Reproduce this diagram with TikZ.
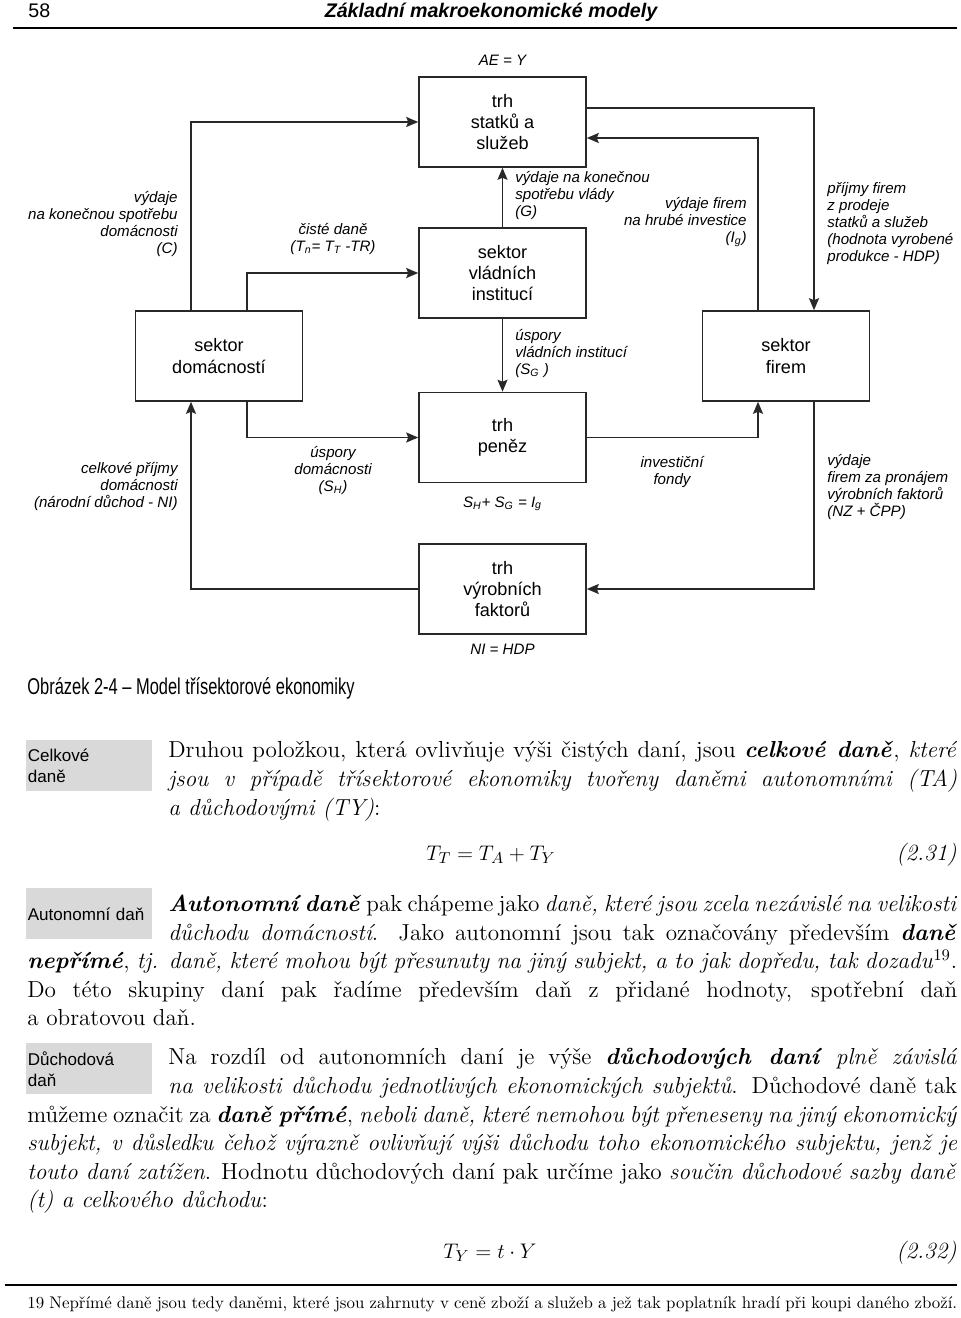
\documentclass[tikz,border=0pt]{standalone}
\usepackage{fontspec}
\usepackage{graphicx}
\usepackage{xcolor}
\usepackage{tikz}
\usetikzlibrary{arrows.meta,positioning}
\newfontfamily\arial{Liberation Sans}
\definecolor{linegray}{RGB}{40,40,40}
\definecolor{notegray}{RGB}{217,217,217}
% one justified line of the body text
\newcommand{\jline}[4]{\node[body] (#1) at #2 {\hbox to #3{#4}};}

\begin{document}
\begin{tikzpicture}[x=0.02cm, y=-0.02cm,
        sector/.style={draw=linegray, line width=0.9pt, minimum width=3.34cm, minimum height=1.8cm, inner sep=0pt, align=center, font=\arial\fontsize{10.3}{12}\selectfont},
        lbl/.style={inner sep=0pt, font=\arial\itshape\fontsize{8.6}{9.7}\selectfont},
        flow/.style={draw=linegray, line width=0.9pt, -{Stealth[length=2.4mm, width=2mm, inset=0.4mm]}},
        notebox/.style={fill=notegray, anchor=north west, text width=2.46cm, inner xsep=0.03cm, minimum height=1.02cm, align=left, font=\arial\fontsize{9.7}{12}\selectfont},
        body/.style={inner sep=0pt, anchor=base west, font=\fontsize{13.2}{16.5}\selectfont}
    ]
        \useasboundingbox (0,0) rectangle (960,1318);

        % Running head
        \node[anchor=base west, inner sep=0pt, font=\arial\fontsize{11.2}{13}\selectfont] (pagenum) at (28,18) {58};
        \node[anchor=base, inner sep=0pt, font=\arial\bfseries\itshape\fontsize{11.2}{13}\selectfont] (runhead) at (491,18) {Základní makroekonomické modely};
        \draw[line width=1.2pt] (13,28) -- (957,28);

        % Sectors and markets
        \node[sector] (goods) at (502.5,122) {trh\\statků a\\služeb};
        \node[sector] (gov) at (502.5,273) {sektor\\vládních\\institucí};
        \node[sector] (hh) at (219,356) {sektor\\domácností};
        \node[sector] (firms) at (786,356) {sektor\\firem};
        \node[sector] (money) at (502.5,437.5) {trh\\peněz};
        \node[sector] (factors) at (502.5,589) {trh\\výrobních\\faktorů};

        \node[lbl, above=0.2cm of goods] (ae) {AE = Y};
        \node[lbl, below=0.26cm of money] (saving) {S\textsubscript{H}+ S\textsubscript{G} = I\textsubscript{g}};
        \node[lbl, below=0.18cm of factors] (nihdp) {NI = HDP};

        % Columns of the flows
        \coordinate (xa) at (191,0);
        \coordinate (xb) at (247,0);
        \coordinate (xc) at (758,0);
        \coordinate (xd) at (814,0);

        % Flows
        \draw[flow] (hh.north -| xa) |- (goods.west);
        \draw[flow] (hh.north -| xb) |- (gov.west);
        \draw[flow] (gov) -- (goods);
        \draw[flow] (firms.north -| xc) |- ([yshift=-0.32cm]goods.east);
        \draw[flow] ([yshift=0.28cm]goods.east) -| (firms.north -| xd);
        \draw[flow] (gov) -- (money);
        \draw[flow] (hh.south -| xb) |- (money.west);
        \draw[flow] (money.east) -| (firms.south -| xc);
        \draw[flow] (firms.south -| xd) |- (factors.east);
        \draw[flow] (factors.west) -| (hh.south -| xa);

        % Flow labels
        \node[lbl, anchor=north east, align=right] (lblC) at (178,191) {výdaje\\na konečnou spotřebu\\domácnosti\\(C)};
        \node[lbl, anchor=north, align=center] (lblTn) at (333,223) {čisté daně\\(T\textsubscript{n}= T\textsubscript{T} -TR)};
        \node[lbl, anchor=north west, align=left] (lblG) at (515,171) {výdaje na konečnou\\spotřebu vlády\\(G)};
        \node[lbl, anchor=north east, align=right] (lblIg) at (747,197) {výdaje firem\\na hrubé investice\\(I\textsubscript{g})};
        \node[lbl, anchor=north west, align=left] (lblY) at (827,182) {příjmy firem\\z prodeje\\statků a služeb\\(hodnota vyrobené\\produkce - HDP)};
        \node[lbl, anchor=north west, align=left] (lblSG) at (515,329) {úspory\\vládních institucí\\(S\textsubscript{G} )};
        \node[lbl, anchor=north, align=center] (lblSH) at (333,446) {úspory\\domácnosti\\(S\textsubscript{H})};
        \node[lbl, anchor=north east, align=right] (lblNI) at (178,462) {celkové příjmy\\domácnosti\\(národní důchod - NI)};
        \node[lbl, anchor=north, align=center] (lblInv) at (672,456) {investiční\\fondy};
        \node[lbl, anchor=north west, align=left] (lblNZ) at (827,454) {výdaje\\firem za pronájem\\výrobních faktorů\\(NZ + ČPP)};

        % Caption
        \node[anchor=base west, inner sep=0pt] (caption) at (27,694) {\scalebox{0.72}[1]{\arial\fontsize{13}{15}\selectfont Obrázek 2-4 – Model třísektorové ekonomiky}};

        % Margin notes
        \node[notebox] (note1) at (26,740) {Celkové\\daně};
        \node[notebox] (note2) at (26,888) {Autonomní daň};
        \node[notebox] (note3) at (26,1043) {Důchodová\\daň};

        % Text
        \jline{p1a}{(168,757)}{15.78cm}{Druhou položkou, která ovlivňuje výši čistých daní, jsou \textbf{\textit{celkové daně}}, \textit{které}}
        \jline{p1b}{(168,786)}{15.78cm}{\textit{jsou v případě třísektorové ekonomiky tvořeny daněmi autonomními (TA)}}
        \node[body] (p1c) at (168,815) {\textit{a důchodovými (TY)}:};

        \node[body, anchor=base] (eq1) at (491,860) {$T_T = T_A + T_Y$};
        \node[body, anchor=base east] (eq1no) at (957,860) {\textit{(2.31)}};

        \jline{p2a}{(168,911)}{15.78cm}{\textbf{\textit{Autonomní daně}} pak chápeme jako \textit{daně, které jsou zcela nezávislé na velikosti}}
        \jline{p2b}{(168,940)}{15.78cm}{\textit{důchodu domácností}. Jako autonomní jsou tak označovány především \textbf{\textit{daně}}}
        \jline{p2c}{(27,968)}{18.6cm}{\textbf{\textit{nepřímé}}, \textit{tj. daně, které mohou být přesunuty na jiný subjekt, a to jak dopředu, tak dozadu}\textsuperscript{19}.}
        \jline{p2d}{(27,997)}{18.6cm}{Do této skupiny daní pak řadíme především daň z přidané hodnoty, spotřební daň}
        \node[body] (p2e) at (27,1025) {a obratovou daň.};

        \jline{p3a}{(168,1064)}{15.78cm}{Na rozdíl od autonomních daní je výše \textbf{\textit{důchodových daní}} \textit{plně závislá}}
        \jline{p3b}{(168,1093)}{15.78cm}{\textit{na velikosti důchodu jednotlivých ekonomických subjektů}. Důchodové daně tak}
        \jline{p3c}{(27,1122)}{18.6cm}{můžeme označit za \textbf{\textit{daně přímé}}, \textit{neboli daně, které nemohou být přeneseny na jiný ekonomický}}
        \jline{p3d}{(27,1150)}{18.6cm}{\textit{subjekt, v důsledku čehož výrazně ovlivňují výši důchodu toho ekonomického subjektu, jenž je}}
        \jline{p3e}{(27,1179)}{18.6cm}{\textit{touto daní zatížen}. Hodnotu důchodových daní pak určíme jako \textit{součin důchodové sazby daně}}
        \node[body] (p3f) at (27,1207) {\textit{(t) a celkového důchodu}:};

        \node[body, anchor=base] (eq2) at (490,1258) {$T_Y = t\cdot Y$};
        \node[body, anchor=base east] (eq2no) at (957,1258) {\textit{(2.32)}};

        % Footnote
        \draw[line width=1pt] (5,1285) -- (957,1285);
        \node[anchor=base west, inner sep=0pt, font=\fontsize{9.6}{11}\selectfont] (fn) at (27,1308) {\hbox to 18.6cm{19 Nepřímé daně jsou tedy daněmi, které jsou zahrnuty v ceně zboží a služeb a jež tak poplatník hradí při koupi daného zboží.}};
    \end{tikzpicture}
\end{document}
